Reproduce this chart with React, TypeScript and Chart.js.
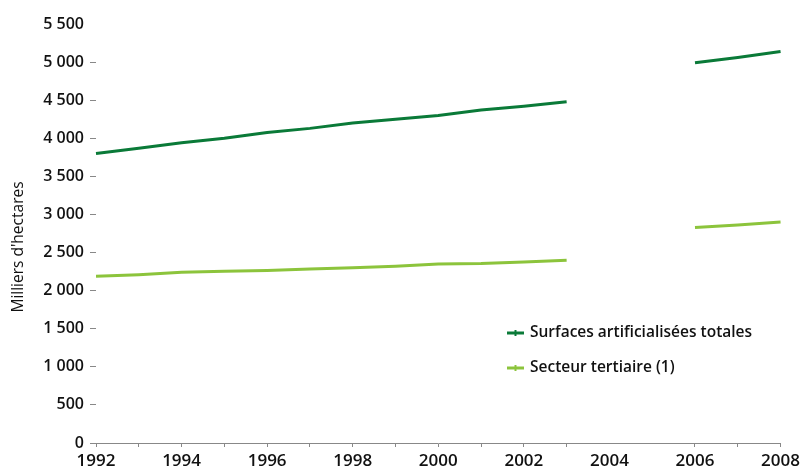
import React, { useEffect, useRef } from "react";
import { Chart, registerables } from "chart.js";

Chart.register(...registerables);

const years = ["1992","1993","1994","1995","1996","1997","1998","1999","2000","2001","2002","2003","2004","2005","2006","2007","2008"];
const surfacesTotales = [3800, 3870, 3940, 4000, 4075, 4130, 4200, 4250, 4300, 4370, 4420, 4480, null, null, 4990, 5060, 5140];
const secteurTertiaire = [2190, 2210, 2240, 2255, 2265, 2285, 2300, 2320, 2350, 2355, 2375, 2400, null, null, 2830, 2860, 2900];
const yTickValues = [0, 500, 1000, 1500, 2000, 2500, 3000, 3500, 4000, 4500, 5000, 5500];
const seriesNames = ["Surfaces artificialisées totales", "Secteur tertiaire (1)"];
const yTitle = "Milliers d'hectares";

const DARK = "#0a7a38";
const LIGHT = "#8cc43c";
const FONT = "'Open Sans', 'DejaVu Sans', sans-serif";
const TEXT = "#111";

const legendPlugin = {
  id: "innerLegend",
  afterDraw(chart: any) {
    const ctx = chart.ctx;
    const colors = [DARK, LIGHT];
    const ys = [333, 368];
    ctx.save();
    seriesNames.forEach((name, i) => {
      const y = ys[i];
      ctx.strokeStyle = colors[i];
      ctx.lineWidth = 3;
      ctx.beginPath();
      ctx.moveTo(507, y);
      ctx.lineTo(524, y);
      ctx.stroke();
      ctx.lineWidth = 2;
      ctx.beginPath();
      ctx.moveTo(515.5, y - 3);
      ctx.lineTo(515.5, y + 3);
      ctx.stroke();
      ctx.fillStyle = TEXT;
      ctx.font = `600 15.5px ${FONT}`;
      ctx.textBaseline = "middle";
      ctx.textAlign = "left";
      ctx.fillText(name, 530, y);
    });
    // y axis title
    ctx.save();
    ctx.translate(19, 247);
    ctx.rotate(-Math.PI / 2);
    ctx.font = `15.5px ${FONT}`;
    ctx.fillStyle = TEXT;
    ctx.textAlign = "center";
    ctx.textBaseline = "middle";
    ctx.fillText(yTitle, 0, 0);
    ctx.restore();
    // extend x axis line left under y ticks
    const x = chart.scales.x;
    ctx.strokeStyle = "#888";
    ctx.lineWidth = 1;
    ctx.beginPath();
    ctx.moveTo(x.left - 6, x.top + 0.5);
    ctx.lineTo(x.left, x.top + 0.5);
    ctx.stroke();
    ctx.restore();
  },
};

export default function App() {
  const ref = useRef<HTMLCanvasElement>(null);
  useEffect(() => {
    const chart = new Chart(ref.current!, {
      type: "line",
      data: {
        labels: years,
        datasets: [
          { label: seriesNames[0], data: surfacesTotales, borderColor: DARK, backgroundColor: DARK, borderWidth: 3, pointRadius: 0, spanGaps: false, tension: 0 },
          { label: seriesNames[1], data: secteurTertiaire, borderColor: LIGHT, backgroundColor: LIGHT, borderWidth: 3, pointRadius: 0, spanGaps: false, tension: 0 },
        ],
      },
      options: {
        animation: false,
        responsive: false,
        maintainAspectRatio: false,
        layout: { padding: { top: 24, right: 23, left: 0, bottom: 0 } },
        plugins: { legend: { display: false }, tooltip: { enabled: false } },
        scales: {
          x: {
            type: "category",
            offset: false,
            border: { display: true, color: "#888", width: 1 },
            grid: {
              drawOnChartArea: false,
              drawTicks: true,
              tickLength: 4,
              tickColor: (c: any) => (c.index === 12 || c.index === 13 ? "rgba(0,0,0,0)" : "#888"),
            },
            ticks: {
              autoSkip: false,
              maxRotation: 0,
              padding: 4,
              color: TEXT,
              font: { size: 17, family: FONT, weight: "600" },
              callback: (v: any, i: number) => (i % 2 === 0 ? years[i] : ""),
            },
            afterFit: (s: any) => { s.height = 28; },
          },
          y: {
            min: 0,
            max: 5500,
            afterBuildTicks: (s: any) => { s.ticks = yTickValues.map((v) => ({ value: v })); },
            border: { display: false },
            grid: {
              drawOnChartArea: false,
              drawTicks: true,
              tickLength: 6,
              tickColor: (c: any) => (c.tick && c.tick.value === 5500 ? "rgba(0,0,0,0)" : "#888"),
            },
            ticks: {
              padding: 6,
              color: TEXT,
              font: { size: 16, family: FONT, weight: "600" },
              callback: (v: any) => String(v).replace(/\B(?=(\d{3})+(?!\d))/g, " "),
            },
            afterFit: (s: any) => { s.width = 96; },
          },
        },
      },
      plugins: [legendPlugin],
    });
    return () => chart.destroy();
  }, []);
  return (
    <div style={{ position: "fixed", left: 0, top: 0, width: 804, height: 471, background: "#fff" }}>
      <canvas ref={ref} width={804} height={471} style={{ width: 804, height: 471 }} />
    </div>
  );
}
